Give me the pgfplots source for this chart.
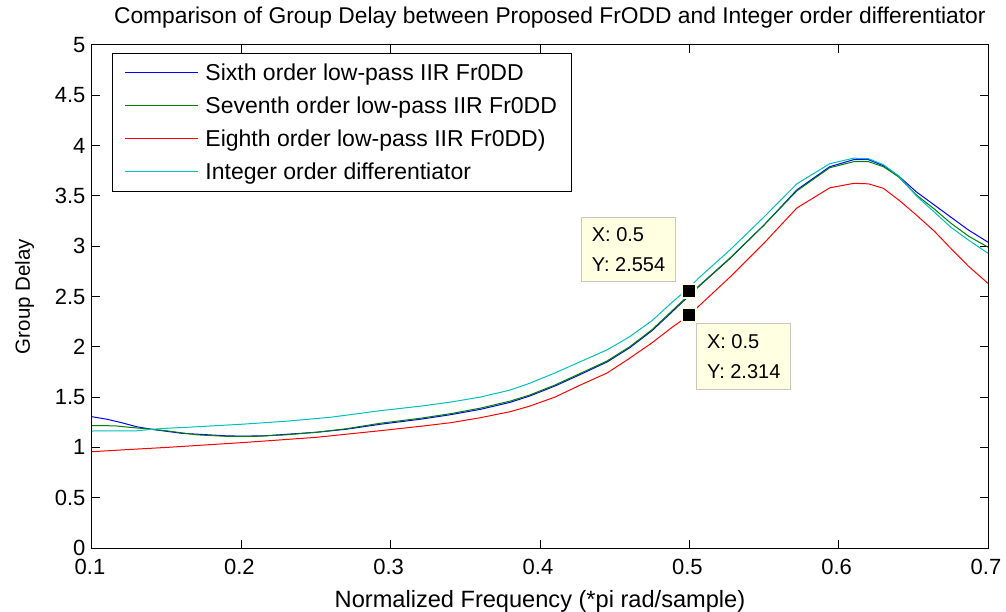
\documentclass[border=0pt]{standalone}
\usepackage{fontspec}
\setmainfont{Liberation Sans}
\usepackage{pgfplots}
\pgfplotsset{compat=1.18}
\usepackage{pgfplotstable}
\definecolor{mgreen}{rgb}{0,0.5,0}
\definecolor{mcyan}{rgb}{0,0.75,0.75}
\definecolor{tipfill}{HTML}{FFFFE1}
\definecolor{tipdraw}{HTML}{C8C8BE}

\pgfplotstableread{
x y
0.100 1.305
0.110 1.28
0.120 1.245
0.130 1.205
0.140 1.18
0.150 1.16
0.160 1.14
0.177 1.126
0.190 1.115
0.200 1.112
0.215 1.115
0.233 1.133
0.250 1.15
0.270 1.18
0.293 1.23
0.320 1.28
0.340 1.325
0.360 1.378
0.380 1.448
0.393 1.51
0.410 1.61
0.427 1.725
0.445 1.85
0.460 1.99
0.475 2.16
0.489 2.355
0.500 2.51
0.506 2.595
0.527 2.875
0.550 3.21
0.572 3.56
0.594 3.79
0.610 3.86
0.620 3.86
0.630 3.80
0.640 3.70
0.652 3.54
0.664 3.41
0.675 3.29
0.687 3.16
0.700 3.04
}\sixth

\pgfplotstableread{
x y
0.100 1.216
0.115 1.215
0.125 1.20
0.140 1.18
0.150 1.165
0.170 1.125
0.190 1.11
0.210 1.11
0.230 1.125
0.250 1.15
0.270 1.185
0.293 1.24
0.320 1.29
0.340 1.335
0.360 1.39
0.380 1.46
0.393 1.52
0.410 1.62
0.427 1.736
0.445 1.86
0.460 2.00
0.475 2.17
0.489 2.366
0.500 2.52
0.506 2.60
0.527 2.88
0.550 3.21
0.572 3.55
0.594 3.78
0.610 3.84
0.620 3.84
0.630 3.79
0.640 3.69
0.652 3.51
0.664 3.37
0.675 3.23
0.687 3.10
0.700 2.99
}\seventh

\pgfplotstableread{
x y
0.100 0.957
0.120 0.975
0.150 1.00
0.200 1.047
0.250 1.10
0.293 1.166
0.320 1.21
0.340 1.245
0.360 1.295
0.380 1.355
0.393 1.41
0.410 1.50
0.427 1.62
0.445 1.74
0.460 1.886
0.475 2.04
0.489 2.20
0.500 2.314
0.506 2.40
0.527 2.69
0.550 3.03
0.572 3.38
0.594 3.58
0.610 3.625
0.620 3.62
0.630 3.575
0.641 3.45
0.652 3.31
0.664 3.15
0.675 2.98
0.687 2.80
0.700 2.63
}\eighth

\pgfplotstableread{
x y
0.100 1.163
0.130 1.165
0.140 1.18
0.150 1.19
0.170 1.205
0.200 1.23
0.230 1.26
0.260 1.30
0.293 1.365
0.320 1.41
0.340 1.45
0.360 1.50
0.380 1.57
0.393 1.637
0.410 1.74
0.427 1.852
0.445 1.97
0.460 2.10
0.475 2.26
0.489 2.45
0.500 2.59
0.506 2.68
0.527 2.96
0.550 3.29
0.572 3.62
0.594 3.82
0.610 3.875
0.620 3.87
0.630 3.81
0.640 3.70
0.652 3.50
0.664 3.34
0.675 3.19
0.687 3.06
0.700 2.93
}\integer

\pgfplotstableread{
x y
0.5 2.554
0.5 2.314
}\tips

\begin{document}
\begin{tikzpicture}
\useasboundingbox (-92pt,-63pt) rectangle (914pt,548pt);
\begin{axis}[
  at={(0pt,0pt)}, anchor=south west,
  scale only axis,
  width=896pt, height=503pt,
  xmin=0.1, xmax=0.7, ymin=0, ymax=5,
  xtick={0.1,0.2,0.3,0.4,0.5,0.6,0.7},
  ytick={0,0.5,1,1.5,2,2.5,3,3.5,4,4.5,5},
  xticklabels={0.1,0.2,0.3,0.4,0.5,0.6,0.7},
  yticklabels={0,0.5,1,1.5,2,2.5,3,3.5,4,4.5,5},
  tick align=inside,
  major tick length=8pt,
  axis line style={line width=1pt},
  tick style={line width=1pt, black},
  ticklabel style={font=\fontsize{22}{26}\selectfont},
  /pgf/number format/assume math mode=true,
  xticklabel style={yshift=-8pt, xshift=-2pt},
  yticklabel style={xshift=-3pt},
  title={Comparison of Group Delay between Proposed FrODD and Integer order differentiator},
  title style={font=\fontsize{22.8}{26}\selectfont, at={(0.511,1)}, anchor=south, yshift=7pt},
  xlabel={Normalized Frequency (*pi rad/sample)},
  ylabel={Group Delay},
  xlabel style={font=\fontsize{23.6}{27}\selectfont, yshift=-8pt},
  ylabel style={font=\fontsize{20.5}{24}\selectfont, yshift=14pt},
  legend style={at={(0.0223,0.984)}, anchor=north west, draw=black, line width=1pt,
    font=\fontsize{23}{27}\selectfont, inner xsep=13pt, inner ysep=8pt, row sep=11pt,
    column sep=5pt, cells={anchor=west}},
  legend image code/.code={\node[#1, inner sep=0pt, outer sep=0pt, draw=none, fill=none, anchor=west] at (0pt,0pt) {\rule[-0.5pt]{73pt}{1pt}};},
  clip=true,
]
\addplot[blue, line width=1pt] table[x=x,y=y] {\sixth};
\addlegendentry{Sixth order low-pass IIR Fr0DD}
\addplot[mgreen, line width=1pt] table[x=x,y=y] {\seventh};
\addlegendentry{Seventh order low-pass IIR Fr0DD}
\addplot[red, line width=1pt] table[x=x,y=y] {\eighth};
\addlegendentry{Eighth order low-pass IIR Fr0DD)}
\addplot[mcyan, line width=1pt] table[x=x,y=y] {\integer};
\addlegendentry{Integer order differentiator}
\addplot[only marks, mark=square*, mark size=7pt, mark options={fill=black, draw=tipfill, line width=2pt}, forget plot] table[x=x,y=y] {\tips};
\node[draw=tipdraw, fill=tipfill, line width=1pt, anchor=south east, align=left,
  minimum width=94pt, minimum height=64pt, inner xsep=9pt,
  font=\fontsize{20}{30}\selectfont] at (axis cs:0.4911,2.644) {X: 0.5\\Y: 2.554};
\node[draw=tipdraw, fill=tipfill, line width=1pt, anchor=north west, align=left,
  minimum width=94pt, minimum height=66pt, inner xsep=9pt,
  font=\fontsize{20}{30}\selectfont] at (axis cs:0.5046,2.237) {X: 0.5\\Y: 2.314};
\end{axis}
\end{tikzpicture}
\end{document}
